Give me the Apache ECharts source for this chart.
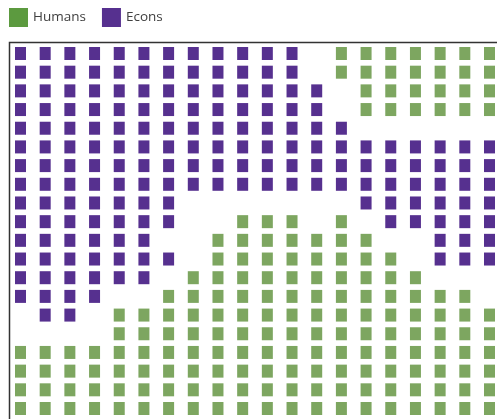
<!DOCTYPE html>
<html>
<head>
<meta charset="utf-8">
<script src="https://cdn.jsdelivr.net/npm/echarts@6/dist/echarts.min.js"></script>
<style>
  html, body { margin: 0; padding: 0; background: #fff; }
  #chart { width: 497px; height: 419px; }
</style>
</head>
<body>
<div id="chart"></div>
<script>
  'use strict'

  // waffle layout, one string per row: H = Humans, E = Econs, . = empty
  const seriesNames = ['Humans', 'Econs']
  const cellCodes = ['H', 'E']
  const layoutRows = [
    'EEEEEEEEEEEE.HHHHHHH',
    'EEEEEEEEEEEE.HHHHHHH',
    'EEEEEEEEEEEEE.HHHHHH',
    'EEEEEEEEEEEEE.HHHHHH',
    'EEEEEEEEEEEEEE......',
    'EEEEEEEEEEEEEEEEEEEE',
    'EEEEEEEEEEEEEEEEEEEE',
    'EEEEEEEEEEEEEEEEEEEE',
    'EEEEEEE.......EEEEEE',
    'EEEEEEE..HHH.H.EEEEE',
    'EEEEEE..HHHHHHH..EEE',
    'EEEEEEE.HHHHHHHH.EEE',
    'EEEEEE.HHHHHHHHHH...',
    'EEEE..HHHHHHHHHHHHH.',
    '.EE.HHHHHHHHHHHHHHHH',
    '....HHHHHHHHHHHHHHHH',
    'HHHHHHHHHHHHHHHHHHHH',
    'HHHHHHHHHHHHHHHHHHHH',
    'HHHHHHHHHHHHHHHHHHHH',
    'HHHHHHHHHHHHHHHHHHHH',
  ]
  const markColors = ['#7da660', '#56308f']
  const legendColors = ['#5c9a3f', '#56308f']

  const cellsFor = code => {
    const out = []
    layoutRows.forEach((row, r) => {
      row.split('').forEach((ch, c) => {
        if (ch === code) out.push([c, r])
      })
    })
    return out
  }

  const chart = echarts.init(document.getElementById('chart'))

  const series = seriesNames.map((name, i) => ({
    name,
    type: 'scatter',
    symbol: 'rect',
    symbolSize: [11, 13],
    clip: false,
    itemStyle: {color: markColors[i], opacity: 1},
    emphasis: {disabled: true},
    data: cellsFor(cellCodes[i]),
  }))

  chart.setOption({
    animation: false,
    legend: {
      left: 4,
      top: 3,
      itemWidth: 19,
      itemHeight: 19,
      itemGap: 16,
      icon: 'rect',
      textStyle: {fontFamily: 'Open Sans', fontSize: 13.5, color: '#404040'},
      data: seriesNames.map((name, i) => ({name, itemStyle: {color: legendColors[i], opacity: 1}})),
    },
    grid: {left: 20.5, top: 53.5, width: 469, height: 355},
    xAxis: {type: 'value', min: 0, max: 19, show: false, splitLine: {show: false}},
    yAxis: {type: 'value', min: 0, max: 19, inverse: true, show: false, splitLine: {show: false}},
    graphic: [
      {
        type: 'rect',
        silent: true,
        z: -1,
        shape: {x: 9.5, y: 42.5, width: 600, height: 500},
        style: {fill: null, stroke: '#333', lineWidth: 1.5},
      },
    ],
    series,
  })
</script>
</body>
</html>
